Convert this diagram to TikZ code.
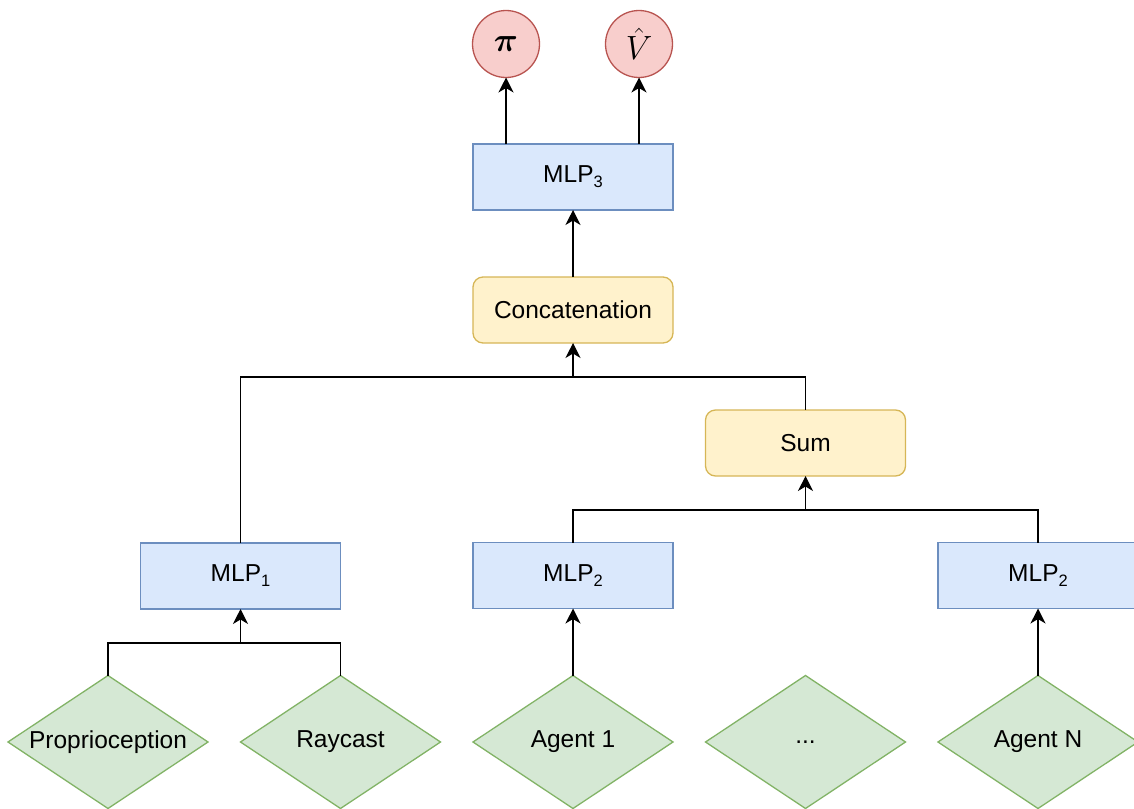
\documentclass[tikz,border=0pt]{standalone}
\usepackage{amsmath}
\usepackage{fontspec}
\usepackage{graphicx}
\setmainfont{Liberation Sans}
\usetikzlibrary{arrows.meta, positioning, shapes.geometric}
\definecolor{Blue-F}{HTML}{DAE8FC}
\definecolor{Blue-D}{HTML}{6C8EBF}
\definecolor{Yellow-F}{HTML}{FFF2CC}
\definecolor{Yellow-D}{HTML}{D6B656}
\definecolor{Green-F}{HTML}{D5E8D4}
\definecolor{Green-D}{HTML}{82B366}
\definecolor{Red-F}{HTML}{F8CECC}
\definecolor{Red-D}{HTML}{B85450}
\newcommand{\lowidx}[1]{\raisebox{-5pt}{\fontsize{16.5}{18}\selectfont #1}}

\begin{document}
\begin{tikzpicture}[x=1pt, y=-1pt, font=\fontsize{24.5}{28}\selectfont, line width=1.3pt,
  mlp/.style={rectangle, draw=Blue-D, fill=Blue-F, minimum width=200pt, minimum height=66pt, inner sep=0pt, outer sep=0pt},
  merge/.style={rectangle, rounded corners=10pt, draw=Yellow-D, fill=Yellow-F, minimum width=200pt, minimum height=66pt, inner sep=0pt, outer sep=0pt},
  obs/.style={diamond, aspect=1.5, draw=Green-D, fill=Green-F, minimum width=200pt, minimum height=133pt, inner sep=0pt, outer sep=0pt},
  head/.style={circle, draw=Red-D, fill=Red-F, minimum size=67pt, inner sep=0pt, outer sep=0pt},
  flow/.style={-{Stealth[length=15pt, width=15pt, inset=4.5pt]}}]

\useasboundingbox (0,0) rectangle (1134,808);

% inputs
\node [obs] (prop) at (108,742) {Proprioception};
\node [obs] (ray) at (340.5,742) {Raycast};
\node [obs] (ag1) at (573,742) {Agent 1};
\node [obs] (dots) at (805.5,742) {...};
\node [obs] (agN) at (1038,742) {Agent N};

% encoders
\node [mlp] (mlp1) at (240.5,576) {MLP\lowidx{1}};
\node [mlp, above=67pt of ag1] (mlp2a) {MLP\lowidx{2}};
\node [mlp, above=67pt of agN] (mlp2b) {MLP\lowidx{2}};

\node [merge] (sum) at (805.5,443) {Sum};
\node [merge] (concat) at (573,310) {Concatenation};
\node [mlp, above=67pt of concat] (mlp3) {MLP\lowidx{3}};

% heads
\node [head] (pi) at (506,44) {\scalebox{1.35}{$\boldsymbol{\pi}$}};
\node [head] (vhat) at (639,44) {\scalebox{1.35}{$\hat{V}$}};

\coordinate (fuse) at (240.5,643);
\coordinate (gather) at (805.5,510);
\coordinate (join) at (573,377);

\draw (prop.north) |- (ray.north |- fuse) -- (ray.north);
\draw [flow] (fuse) -- (mlp1.south);
\draw [flow] (ag1.north) -- (mlp2a.south);
\draw [flow] (agN.north) -- (mlp2b.south);
\draw (mlp2a.north) |- (mlp2b.north |- gather) -- (mlp2b.north);
\draw [flow] (gather) -- (sum.south);
\draw (mlp1.north) |- (sum.north |- join) -- (sum.north);
\draw [flow] (join) -- (concat.south);
\draw [flow] (concat.north) -- (mlp3.south);
\draw [flow] (pi.south |- mlp3.north) -- (pi.south);
\draw [flow] (vhat.south |- mlp3.north) -- (vhat.south);

\end{tikzpicture}
\end{document}
